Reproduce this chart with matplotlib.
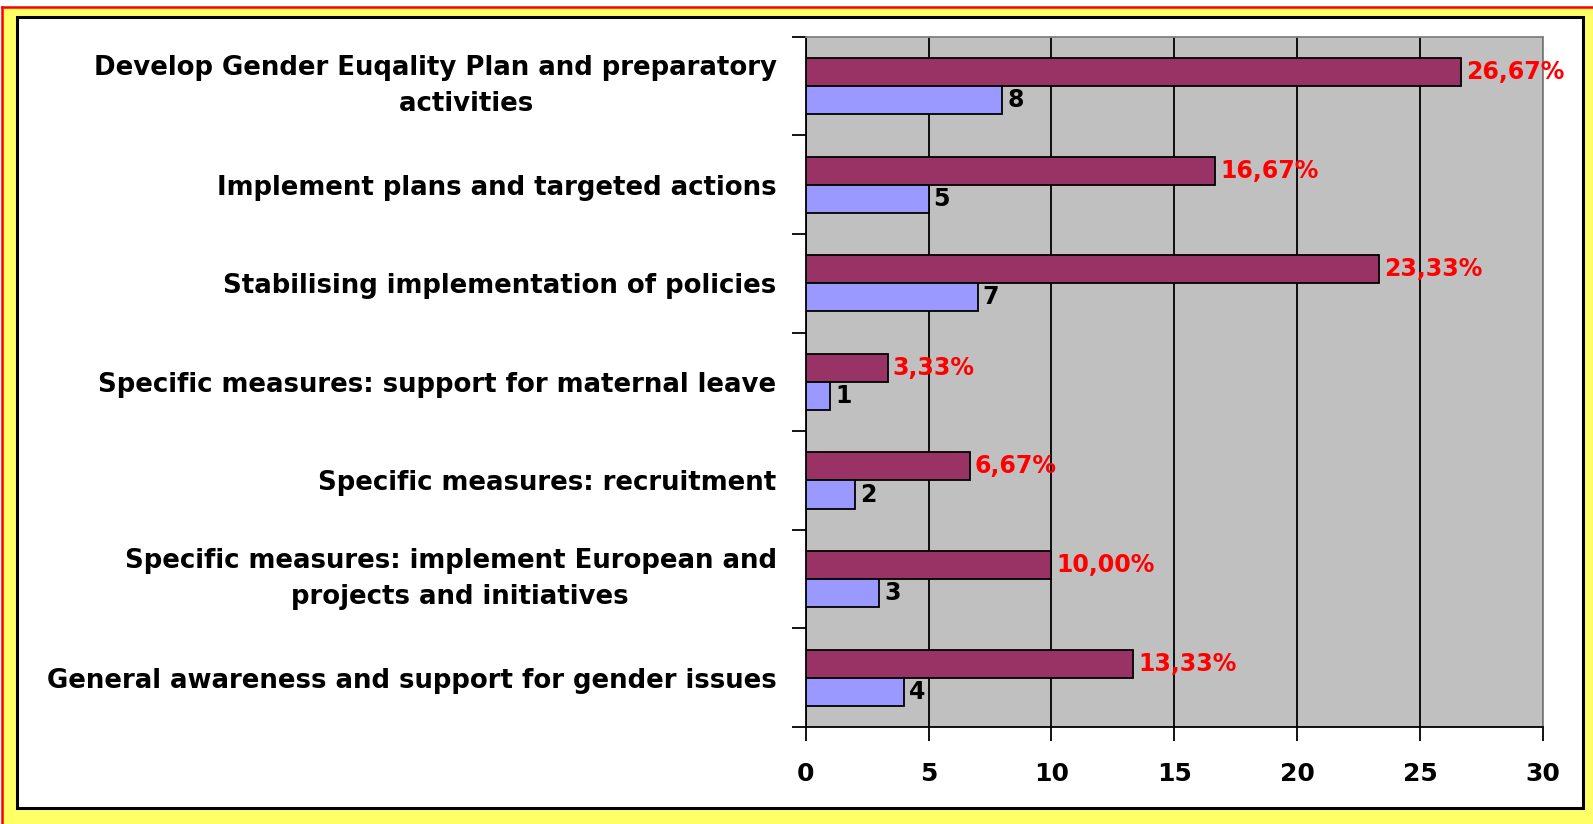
import matplotlib
matplotlib.use("Agg")
import matplotlib.pyplot as plt
from matplotlib.patches import Rectangle
from matplotlib.lines import Line2D
import numpy as np

categories = [
    "Develop Gender Euqality Plan and preparatory\n       activities",
    "Implement plans and targeted actions",
    "Stabilising implementation of policies",
    "Specific measures: support for maternal leave",
    "Specific measures: recruitment",
    "Specific measures: implement European and\n  projects and initiatives",
    "General awareness and support for gender issues",
]
percentages = [26.67, 16.67, 23.33, 3.33, 6.67, 10.00, 13.33]
counts = [8, 5, 7, 1, 2, 3, 4]
x_ticks = [0, 5, 10, 15, 20, 25, 30]

plt.rcParams["font.family"] = ["DejaVu Sans"]
plt.rcParams["font.weight"] = "bold"

W, H = 1593, 824
fig = plt.figure(figsize=(W / 100, H / 100), dpi=100, facecolor="white")

def fx(px):
    return px / W

def fy(py):
    return 1 - py / H

# Frame: yellow band with red top/left edge, black inner border, white panel
fig.patches.append(Rectangle((fx(2), 0), 1, fy(7), transform=fig.transFigure,
                             facecolor="#FFFF66", edgecolor="none", zorder=-10))
fig.lines.append(Line2D([fx(2), fx(2)], [0, fy(7)], transform=fig.transFigure,
                        color="#FF0000", linewidth=1.8, zorder=-9))
fig.lines.append(Line2D([fx(2), 1], [fy(7), fy(7)], transform=fig.transFigure,
                        color="#FF0000", linewidth=1.8, zorder=-9))
fig.patches.append(Rectangle((fx(16.5), fy(808)), fx(1583 - 16.5), (808 - 16.5) / H,
                             transform=fig.transFigure, facecolor="white",
                             edgecolor="black", linewidth=2.2, zorder=-8))

ax = fig.add_axes([fx(805.7), fy(727), fx(1543 - 805.7), (727 - 36.7) / H])
ax.set_facecolor("#C0C0C0")

y = np.arange(len(categories))
h = 0.285
ax.barh(y - h / 2, percentages, height=h, color="#993366", edgecolor="black",
        linewidth=1.3, zorder=3)
ax.barh(y + h / 2, counts, height=h, color="#9999FF", edgecolor="black",
        linewidth=1.3, zorder=3)

for yi, p, c in zip(y, percentages, counts):
    ax.annotate(f"{p:.2f}".replace(".", ",") + "%", (p, yi - h / 2),
                xytext=(3.5, 0), textcoords="offset points", va="center", ha="left",
                color="#FF0000", fontsize=17, fontweight="bold", zorder=4)
    ax.annotate(f"{c}", (c, yi + h / 2), xytext=(3.5, 0), textcoords="offset points",
                va="center", ha="left", color="black", fontsize=17,
                fontweight="bold", zorder=4)

ax.set_xlim(0, 30)
ax.set_ylim(len(categories) - 0.5, -0.5)
ax.set_xticks(x_ticks)
ax.set_xticklabels([str(t) for t in x_ticks], fontsize=18, fontweight="bold")
ax.xaxis.grid(True, color="black", linewidth=1.3, zorder=1)
ax.set_axisbelow(True)

ax.set_yticks(np.arange(len(categories) + 1) - 0.5)
ax.set_yticklabels([])
ax.set_yticks(y, minor=True)
labels = ax.set_yticklabels(categories, minor=True, fontsize=18.7, fontweight="bold",
                            multialignment="center", linespacing=1.5)
for lab in labels:
    lab.set_va("center" if "\n" in lab.get_text() else "center_baseline")
ax.tick_params(axis="y", which="major", length=10, width=1.3, direction="out")
ax.tick_params(axis="y", which="minor", length=0, pad=21)
ax.tick_params(axis="x", length=10, width=1.3, direction="out", pad=15)

for side in ("left", "bottom"):
    ax.spines[side].set_color("black")
    ax.spines[side].set_linewidth(1.3)
for side in ("top", "right"):
    ax.spines[side].set_color("#808080")
    ax.spines[side].set_linewidth(1.3)

fig.savefig("out.png", dpi=100)
